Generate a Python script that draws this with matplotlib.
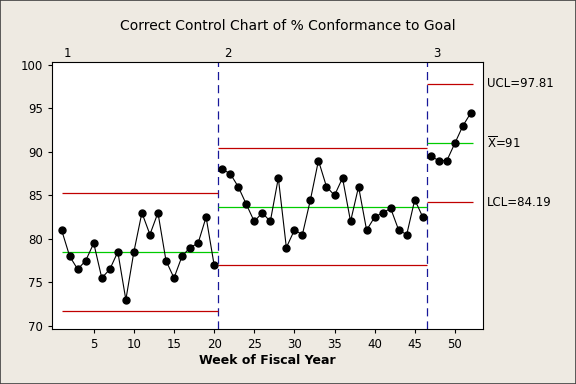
import matplotlib.pyplot as plt
import numpy as np

# % conformance to goal, weekly, three stages
stage1 = [81, 78, 76.5, 77.5, 79.5, 75.5, 76.5, 78.5, 73, 78.5,
          83, 80.5, 83, 77.5, 75.5, 78, 79, 79.5, 82.5, 77]
stage2 = [88, 87.5, 86, 84, 82, 83, 82, 87, 79, 81,
          80.5, 84.5, 89, 86, 85, 87, 82, 86, 81, 82.5,
          83, 83.5, 81, 80.5, 84.5, 82.5]
stage3 = [89.5, 89, 89, 91, 93, 94.5]

stage_names = ["1", "2", "3"]
stage_mean = [78.5, 83.7, 91.0]
stage_ucl = [85.25, 90.4, 97.81]
stage_lcl = [71.7, 77.0, 84.19]

values = stage1 + stage2 + stage3
weeks = np.arange(1, len(values) + 1)

bg = "#EEEAE2"
fig = plt.figure(figsize=(5.76, 3.84), dpi=100, facecolor=bg)
ax = fig.add_axes([0.0903, 0.1424, 0.7482, 0.6954])

# stage boundaries
bounds = [0.5, len(stage1) + 0.5, len(stage1) + len(stage2) + 0.5, len(values) + 0.3]
for b in bounds[1:3]:
    ax.axvline(b, color="#18189A", linestyle=(0, (6.5, 4)), linewidth=0.9)

for i in range(3):
    x0 = max(bounds[i], 1)
    x1 = bounds[i + 1]
    ax.hlines([stage_ucl[i], stage_lcl[i]], x0, x1, color="#C00000", linewidth=0.9)
    ax.hlines(stage_mean[i], x0, x1, color="#00CC00", linewidth=0.9)
    ax.text(bounds[i] + 1.2, 100.6, stage_names[i], ha="center", va="bottom", fontsize=8.5)

# plot each stage separately (no line across stage boundaries)
start = 0
for s in [stage1, stage2, stage3]:
    w = weeks[start:start + len(s)]
    ax.plot(w, s, color="black", linewidth=0.8, marker="o", markersize=5)
    start += len(s)

ax.text(54.0, stage_ucl[2], "UCL=97.81", va="center", ha="left", fontsize=8.5)
ax.text(54.0, stage_mean[2], r"$\overline{\mathrm{X}}$=91", va="center", ha="left", fontsize=8.5)
ax.text(54.0, stage_lcl[2], "LCL=84.19", va="center", ha="left", fontsize=8.5)

ax.set_xlim(-0.2, 53.5)
ax.set_ylim(69.6, 100.3)
ax.set_xticks(np.arange(5, 51, 5))
ax.set_yticks(np.arange(70, 101, 5))
ax.tick_params(direction="out", labelsize=8.5, length=3)
ax.set_xlabel("Week of Fiscal Year", fontsize=9, fontweight="bold", labelpad=2)
fig.suptitle("Correct Control Chart of % Conformance to Goal", fontsize=10, y=0.95)

fig.patches.append(plt.Rectangle((0, 0), 1, 1, transform=fig.transFigure,
                                 fill=False, edgecolor="#404040", linewidth=1.2))

fig.savefig("out.png", dpi=100, facecolor=bg)
